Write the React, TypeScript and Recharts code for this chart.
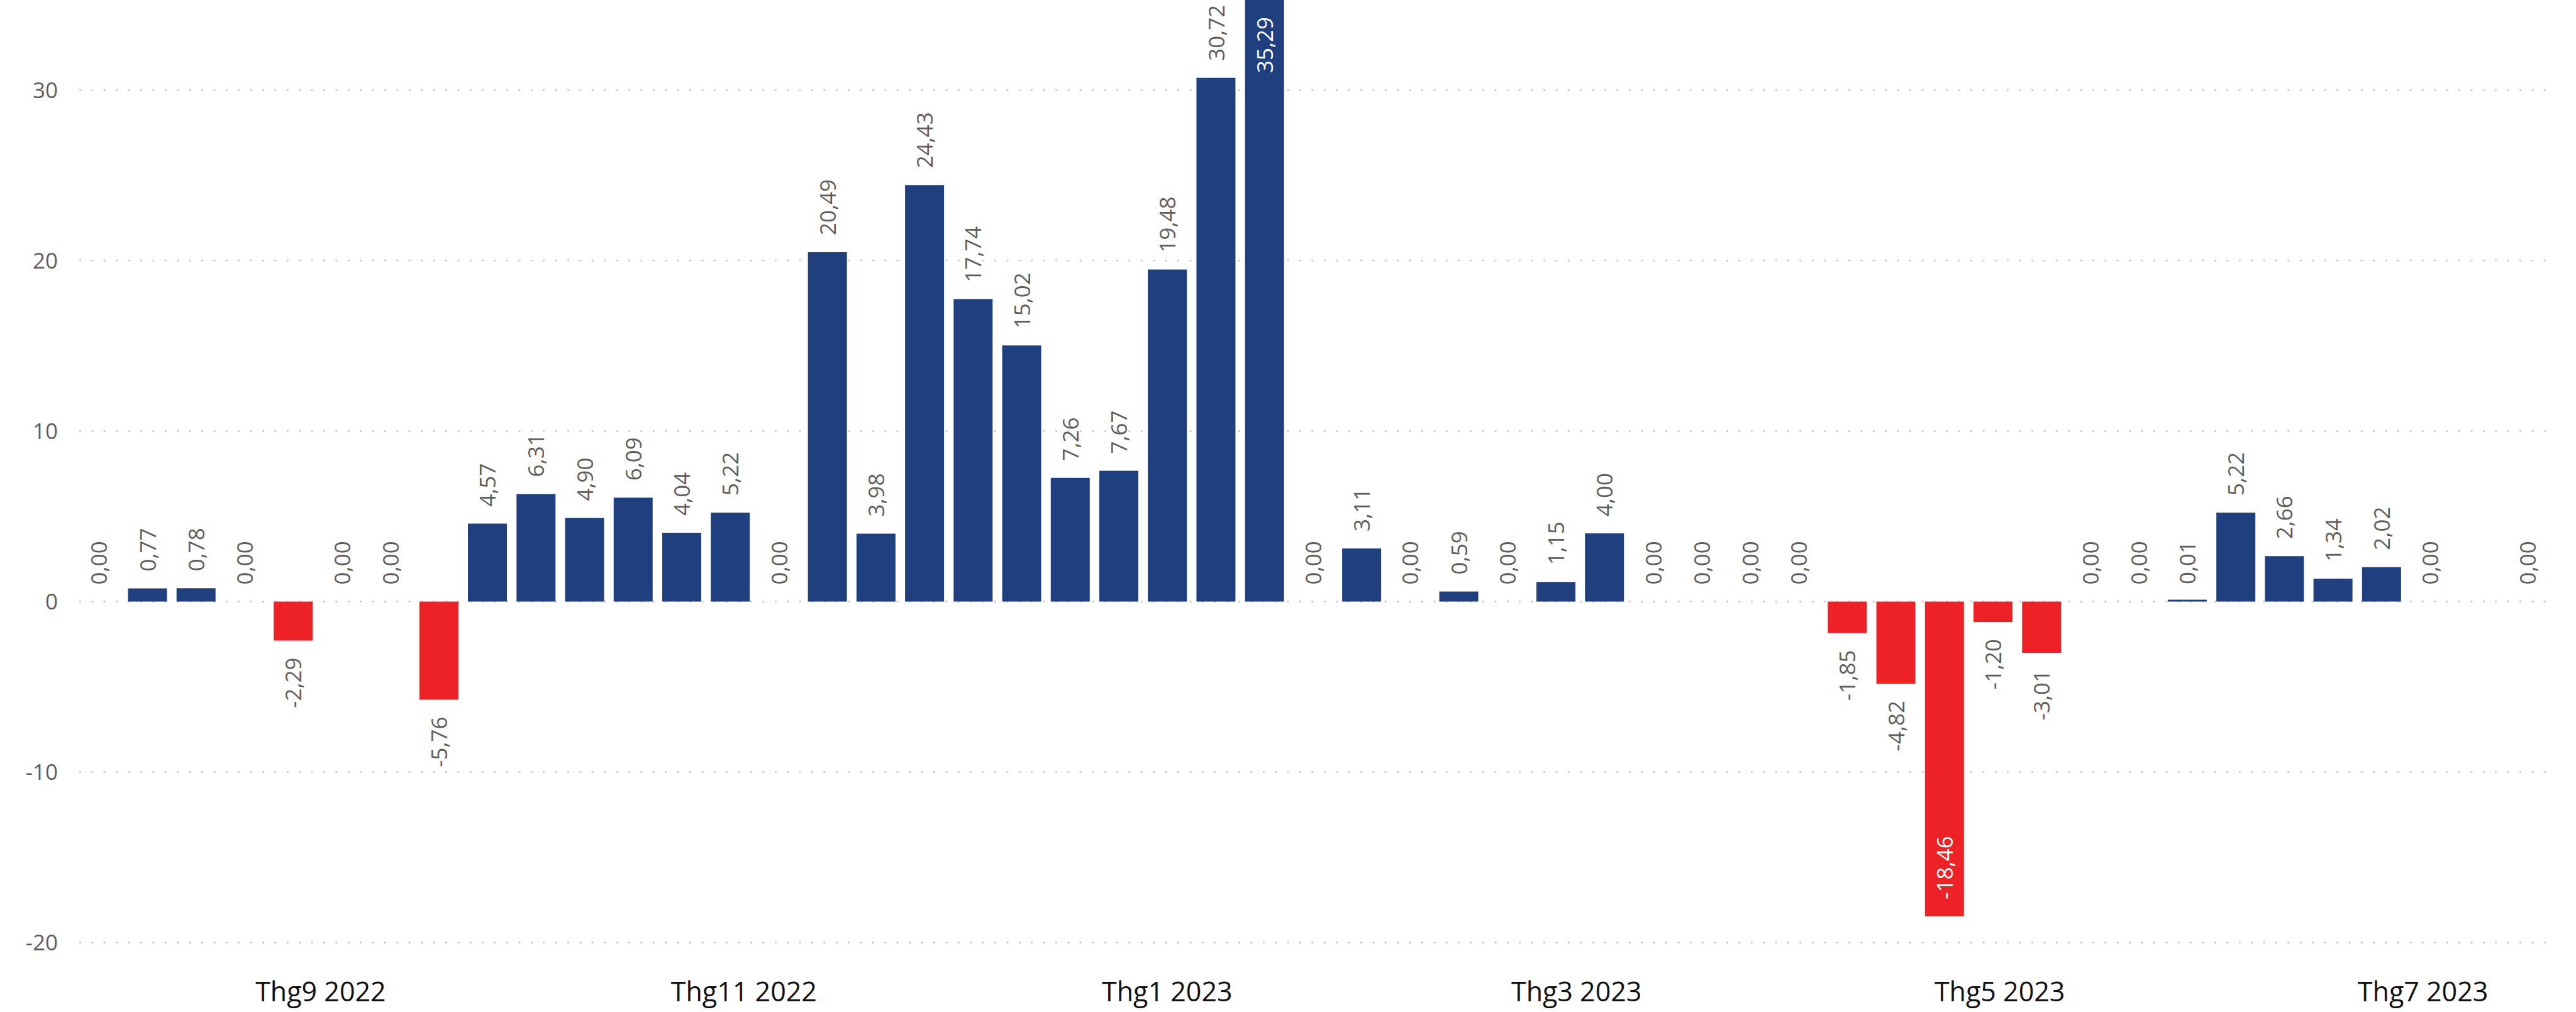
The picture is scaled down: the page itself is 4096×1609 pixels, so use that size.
import { ComposedChart, Bar, Line, XAxis, YAxis, CartesianGrid, Cell, LabelList } from "recharts";

// weekly points (week ending Sunday)
const weeks = [
  "2022-07-31", "2022-08-07", "2022-08-14", "2022-08-21", "2022-08-28",
  "2022-09-04", "2022-09-11", "2022-09-18", "2022-09-25", "2022-10-02",
  "2022-10-09", "2022-10-16", "2022-10-23", "2022-10-30", "2022-11-06",
  "2022-11-13", "2022-11-20", "2022-11-27", "2022-12-04", "2022-12-11",
  "2022-12-18", "2022-12-25", "2023-01-01", "2023-01-08", "2023-01-15",
  "2023-01-22", "2023-01-29", "2023-02-05", "2023-02-12", "2023-02-19",
  "2023-02-26", "2023-03-05", "2023-03-12", "2023-03-19", "2023-03-26",
  "2023-04-02", "2023-04-09", "2023-04-16", "2023-04-23", "2023-04-30",
  "2023-05-07", "2023-05-14", "2023-05-21", "2023-05-28", "2023-06-04",
  "2023-06-11", "2023-06-18", "2023-06-25", "2023-07-02", "2023-07-09",
  "2023-07-16",
];

const values: (number | null)[] = [
  0.0, 0.77, 0.78, 0.0, -2.29,
  0.0, 0.0, -5.76, 4.57, 6.31,
  4.9, 6.09, 4.04, 5.22, 0.0,
  20.49, 3.98, 24.43, 17.74, 15.02,
  7.26, 7.67, 19.48, 30.72, 35.29,
  0.0, 3.11, 0.0, 0.59, 0.0,
  1.15, 4.0, 0.0, 0.0, 0.0,
  0.0, -1.85, -4.82, -18.46, -1.2,
  -3.01, 0.0, 0.0, 0.01, 5.22,
  2.66, 1.34, 2.02, 0.0, null,
  0.0,
];

const monthTicks = ["2022-09-01", "2022-11-01", "2023-01-01", "2023-03-01", "2023-05-01", "2023-07-01"];
const monthLabels = ["Thg9 2022", "Thg11 2022", "Thg1 2023", "Thg3 2023", "Thg5 2023", "Thg7 2023"];
const yTicks = [-20, -10, 0, 10, 20, 30];

const BLUE = "#1F3F7E";
const RED = "#ED2226";
const GREY = "#605E5C";
const FONT = "'Open Sans', sans-serif";

const W = 4096;
const H = 1609;
const X_AXIS_H = 83.5;
const PLOT_TOP = 0;
const PLOT_BOTTOM = H - X_AXIS_H;
const LABEL_SIZE = 35;
const GAP = 27;
const PAD_DAYS = 2.8;

const dayNum = (s: string) =>
  Date.UTC(+s.slice(0, 4), +s.slice(5, 7) - 1, +s.slice(8, 10)) / 86400000;

const data = weeks.map((w, i) => ({ day: dayNum(w), value: values[i] }));
const tickDays = monthTicks.map(dayNum);

const fmt = (v: number) => v.toFixed(2).replace(".", ",");

// label placed at the end of the bar (point of the hidden line = bar end)
function BarLabel(props: any) {
  const vb = props.viewBox || {};
  const x = props.x ?? vb.x;
  const y = props.y ?? vb.y;
  const value = props.value;
  if (value == null || x == null || y == null || isNaN(y)) return null;
  const cx = x;
  const text = fmt(Number(value));
  const len = text.length * LABEL_SIZE * 0.55;
  let ay: number;
  let anchor: "start" | "end";
  let fill = GREY;
  if (value >= 0) {
    if (y - GAP - len >= PLOT_TOP) {
      ay = y - GAP;
      anchor = "start";
    } else {
      ay = y + GAP;
      anchor = "end";
      fill = "#ffffff";
    }
  } else {
    if (y + GAP + len <= PLOT_BOTTOM) {
      ay = y + GAP;
      anchor = "end";
    } else {
      ay = y - GAP;
      anchor = "start";
      fill = "#ffffff";
    }
  }
  return (
    <text
      x={cx}
      y={ay}
      transform={`rotate(-90 ${cx} ${ay})`}
      textAnchor={anchor}
      dominantBaseline="central"
      fontSize={LABEL_SIZE}
      fontFamily={FONT}
      fill={fill}
    >
      {text}
    </text>
  );
}

export default function App() {
  return (
    <div style={{ position: "absolute", left: 0, top: 0, width: W, height: H, background: "#fff", fontFamily: FONT }}>
      <ComposedChart width={W} height={H} data={data} margin={{ top: 0, right: 47, bottom: 0, left: 0 }}>
        <CartesianGrid
          vertical={false}
          syncWithTicks
          stroke="#C8C6C4"
          strokeWidth={2.5}
          strokeDasharray="3 16.4"
        />
        <XAxis
          dataKey="day"
          type="number"
          scale="linear"
          domain={[data[0].day - PAD_DAYS, data[data.length - 1].day + PAD_DAYS]}
          ticks={tickDays}
          tickFormatter={(d: number) => monthLabels[tickDays.indexOf(d)] ?? ""}
          axisLine={false}
          tickLine={false}
          tickSize={0}
          tickMargin={36}
          height={X_AXIS_H}
          interval={0}
          allowDataOverflow
          tick={{ fontSize: 43, fill: "#111111", fontFamily: FONT }}
        />
        <YAxis
          type="number"
          domain={[-21, 35.29]}
          ticks={yTicks}
          allowDataOverflow
          axisLine={false}
          tickLine={false}
          tickSize={0}
          tickMargin={34}
          width={126}
          tick={{ fontSize: 35, fill: GREY, fontFamily: FONT }}
        />
        <Bar
          dataKey="value"
          barSize={62}
          minPointSize={(v: any) => (v ? 3 : 0)}
          isAnimationActive={false}
        >
          {data.map((d, i) => (
            <Cell key={i} fill={d.value != null && d.value < 0 ? RED : BLUE} />
          ))}
        </Bar>
        <Line
          dataKey="value"
          stroke="none"
          dot={false}
          activeDot={false}
          legendType="none"
          isAnimationActive={false}
        >
          <LabelList dataKey="value" content={(p: any) => <BarLabel {...p} />} />
        </Line>
      </ComposedChart>
    </div>
  );
}
